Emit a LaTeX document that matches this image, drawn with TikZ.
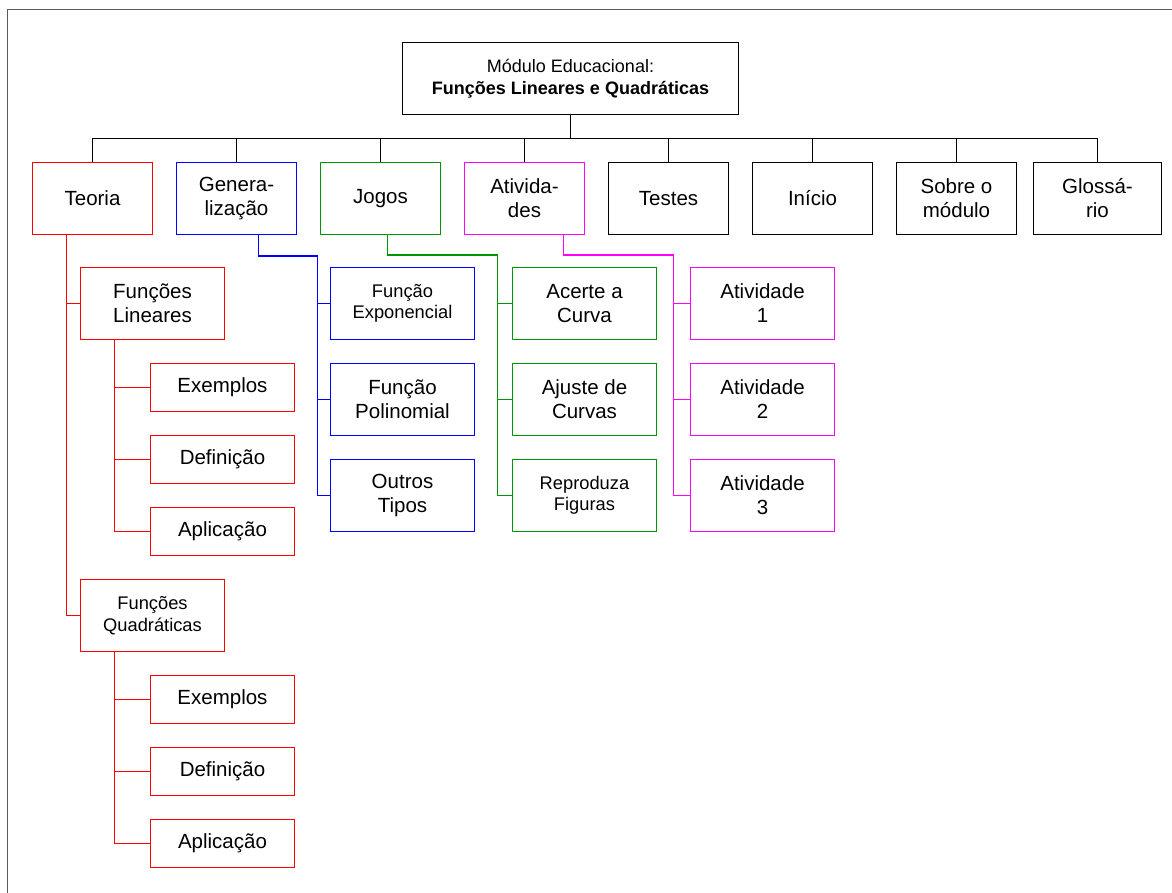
\documentclass[tikz,border=0pt]{standalone}
\usepackage{fontspec}
\setmainfont{Liberation Sans}
\newcommand\fbig{\fontsize{20.5bp}{24bp}\selectfont}
\newcommand\fsmall{\fontsize{18.3bp}{21.5bp}\selectfont}
\newcommand\froot{\fontsize{18bp}{21.5bp}\selectfont}
\definecolor{cred}{RGB}{255,0,0}
\definecolor{cblue}{RGB}{0,0,255}
\definecolor{cgreen}{RGB}{0,150,0}
\definecolor{cmag}{RGB}{255,0,255}
\definecolor{framecol}{RGB}{90,90,90}
\begin{document}
\begin{tikzpicture}[x=1bp,y=-1bp,
  box/.style={draw,rectangle,inner sep=0pt,align=center,line width=1bp,text=black,font=\fbig},
  topbox/.style={box,minimum width=120bp,minimum height=72bp},
  midbox/.style={box,minimum width=144bp,minimum height=72bp},
  lowbox/.style={box,minimum width=144bp,minimum height=48bp},
  conn/.style={line width=1.3bp}]
\useasboundingbox (0,0) rectangle (1172,893);
% frame
\draw[framecol,line width=1.5bp] (1172,9.5) -- (7.5,9.5) -- (7.5,893);
% root
\node[box,minimum width=336bp,minimum height=72bp,font=\froot] (root) at (570.5,78.5)
  {Módulo Educacional:\\\textbf{Funções Lineares e Quadráticas}};
% level 1
\node[topbox,draw=cred] (teoria) at (92.5,198.5) {Teoria};
\node[topbox,draw=cblue] (gen) at (236.5,198.5) {Genera-\\lização};
\node[topbox,draw=cgreen] (jogos) at (380.5,198.5) {Jogos};
\node[topbox,draw=cmag] (ativ) at (524.5,198.5) {Ativida-\\des};
\node[topbox] (testes) at (668.5,198.5) {Testes};
\node[topbox] (inicio) at (812.5,198.5) {Início};
\node[topbox] (sobre) at (956.5,198.5) {Sobre o\\módulo};
\node[topbox,minimum width=128bp] (glos) at (1097.5,198.5) {Glossá-\\rio};
% bus
\coordinate (busy) at (0,138.5);
\draw[line width=1bp] (root.south) -- (root.south |- busy);
\draw[line width=1bp] (teoria.north) -- (teoria.north |- busy) -- (glos.north |- busy) -- (glos.north);
\foreach \n in {gen,jogos,ativ,testes,inicio,sobre}
  \draw[line width=1bp] (\n.north) -- (\n.north |- busy);
% Teoria branch
\node[midbox,draw=cred] (fl) at (152.5,303.5) {Funções\\Lineares};
\node[lowbox,draw=cred] (ex1) at (222.5,387.5) {Exemplos};
\node[lowbox,draw=cred] (def1) at (222.5,459.5) {Definição};
\node[lowbox,draw=cred] (apl1) at (222.5,531.5) {Aplicação};
\node[midbox,draw=cred,font=\fsmall] (fq) at (152.5,615.5) {Funções\\Quadráticas};
\node[lowbox,draw=cred] (ex2) at (222.5,699.5) {Exemplos};
\node[lowbox,draw=cred] (def2) at (222.5,771.5) {Definição};
\node[lowbox,draw=cred] (apl2) at (222.5,843.5) {Aplicação};
\coordinate (ts) at ([xshift=-26bp]teoria.south);
\draw[cred,conn] (ts) |- (fq.west);
\draw[cred,conn] (ts |- fl.west) -- (fl.west);
\coordinate (fls) at ([xshift=-38bp]fl.south);
\draw[cred,conn] (fls) |- (apl1.west);
\draw[cred,conn] (fls |- ex1.west) -- (ex1.west);
\draw[cred,conn] (fls |- def1.west) -- (def1.west);
\coordinate (fqs) at ([xshift=-38bp]fq.south);
\draw[cred,conn] (fqs) |- (apl2.west);
\draw[cred,conn] (fqs |- ex2.west) -- (ex2.west);
\draw[cred,conn] (fqs |- def2.west) -- (def2.west);
% Generalizacao branch
\node[midbox,draw=cblue,font=\fsmall] (fe) at (402.5,303.5) {Função\\Exponencial};
\node[midbox,draw=cblue] (fp) at (402.5,399.5) {Função\\Polinomial};
\node[midbox,draw=cblue] (ot) at (402.5,495.5) {Outros\\Tipos};
\coordinate (gs) at ([xshift=22bp]gen.south);
\coordinate (gx) at ([xshift=81bp,yshift=-21bp]gen.south);
\draw[cblue,conn] (gs) |- (gx);
\draw[cblue,conn] (gx) |- (ot.west);
\draw[cblue,conn] (gx |- fe.west) -- (fe.west);
\draw[cblue,conn] (gx |- fp.west) -- (fp.west);
% Jogos branch
\node[midbox,draw=cgreen] (ac) at (584.5,303.5) {Acerte a\\Curva};
\node[midbox,draw=cgreen] (aj) at (584.5,399.5) {Ajuste de\\Curvas};
\node[midbox,draw=cgreen,font=\fsmall] (rf) at (584.5,495.5) {Reproduza\\Figuras};
\coordinate (js) at ([xshift=7bp]jogos.south);
\coordinate (jx) at ([xshift=117bp,yshift=-20bp]jogos.south);
\draw[cgreen,conn] (js) |- (jx);
\draw[cgreen,conn] (jx) |- (rf.west);
\draw[cgreen,conn] (jx |- ac.west) -- (ac.west);
\draw[cgreen,conn] (jx |- aj.west) -- (aj.west);
% Atividades branch
\node[midbox,draw=cmag] (a1) at (762.5,303.5) {Atividade\\1};
\node[midbox,draw=cmag] (a2) at (762.5,399.5) {Atividade\\2};
\node[midbox,draw=cmag] (a3) at (762.5,495.5) {Atividade\\3};
\coordinate (as) at ([xshift=39bp]ativ.south);
\coordinate (ax) at ([xshift=149bp,yshift=-20bp]ativ.south);
\draw[cmag,conn] (as) |- (ax);
\draw[cmag,conn] (ax) |- (a3.west);
\draw[cmag,conn] (ax |- a1.west) -- (a1.west);
\draw[cmag,conn] (ax |- a2.west) -- (a2.west);
\end{tikzpicture}
\end{document}
